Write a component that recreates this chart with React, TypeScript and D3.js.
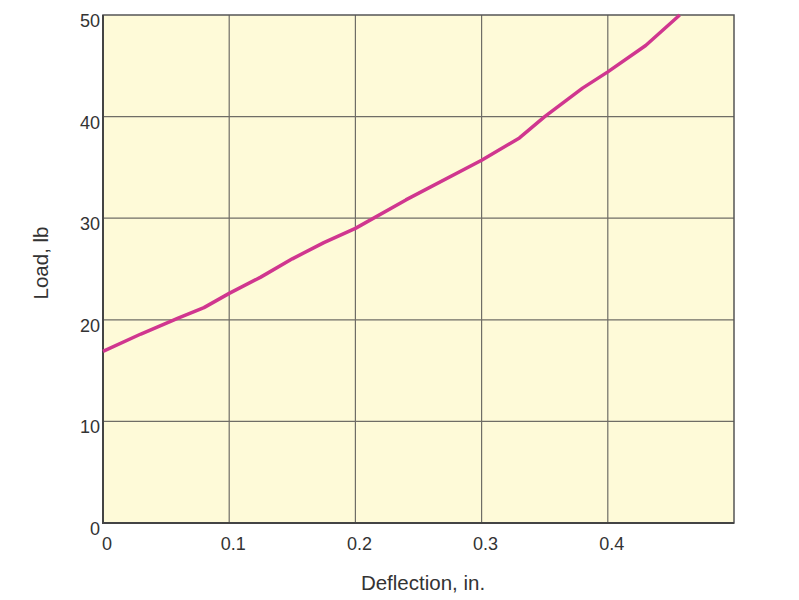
import React, { useRef, useEffect } from "react";
import * as d3 from "d3";

const deflection = [0, 0.03, 0.06, 0.08, 0.1, 0.125, 0.15, 0.175, 0.2, 0.24, 0.3, 0.33, 0.35, 0.38, 0.4, 0.43, 0.457];
const load = [16.9, 18.6, 20.2, 21.2, 22.6, 24.2, 26.0, 27.6, 29.0, 31.8, 35.7, 37.9, 40.0, 42.8, 44.4, 47.0, 50.0];
const xTicks = [0, 0.1, 0.2, 0.3, 0.4];
const yTicks = [0, 10, 20, 30, 40, 50];
const xTitle = "Deflection, in.";
const yTitle = "Load, lb";

const App: React.FC = () => {
  const chartRef = useRef<SVGSVGElement | null>(null);

  useEffect(() => {
    document.body.style.margin = "0";
    if (!chartRef.current) return;
    const svg = d3.select(chartRef.current);
    svg.selectAll("*").remove();

    const width = 799;
    const height = 600;
    const margin = { top: 15, right: 65, bottom: 77, left: 103 };
    const font = "'Liberation Sans', Arial, Helvetica, sans-serif";

    const x = d3.scaleLinear().domain([0, 0.5]).range([margin.left, width - margin.right]);
    const y = d3.scaleLinear().domain([0, 50]).range([height - margin.bottom, margin.top]);

    svg
      .append("rect")
      .attr("x", x(0))
      .attr("y", y(50))
      .attr("width", x(0.5) - x(0))
      .attr("height", y(0) - y(50))
      .attr("fill", "#fefad8");

    // grid
    svg
      .append("g")
      .selectAll("line")
      .data(xTicks.slice(1))
      .join("line")
      .attr("x1", (d) => x(d))
      .attr("x2", (d) => x(d))
      .attr("y1", y(0))
      .attr("y2", y(50))
      .attr("stroke", "#6f6d66")
      .attr("stroke-width", 1.2);

    svg
      .append("g")
      .selectAll("line")
      .data(yTicks.slice(1, -1))
      .join("line")
      .attr("x1", x(0))
      .attr("x2", x(0.5))
      .attr("y1", (d) => y(d))
      .attr("y2", (d) => y(d))
      .attr("stroke", "#6f6d66")
      .attr("stroke-width", 1.2);

    // frame
    svg
      .append("rect")
      .attr("x", x(0))
      .attr("y", y(50))
      .attr("width", x(0.5) - x(0))
      .attr("height", y(0) - y(50))
      .attr("fill", "none")
      .attr("stroke", "#555")
      .attr("stroke-width", 1.5);
    svg
      .append("path")
      .attr("d", `M${x(0)},${y(50)}V${y(0)}H${x(0.5)}`)
      .attr("fill", "none")
      .attr("stroke", "#444")
      .attr("stroke-width", 2);

    // curve
    const pts = deflection.map((d, i) => [d, load[i]] as [number, number]);
    const line = d3
      .line<[number, number]>()
      .x((d) => x(d[0]))
      .y((d) => y(d[1]));
    svg
      .append("path")
      .datum(pts)
      .attr("fill", "none")
      .attr("stroke", "#d0368f")
      .attr("stroke-width", 3.5)
      .attr("stroke-linejoin", "round")
      .attr("d", line);

    // tick labels
    svg
      .append("g")
      .selectAll("text")
      .data(xTicks)
      .join("text")
      .attr("x", (d) => x(d) + 4)
      .attr("y", y(0) + 26.5)
      .attr("text-anchor", "middle")
      .attr("font-family", font)
      .attr("font-size", 18)
      .attr("fill", "#333")
      .text((d) => (d === 0 ? "0" : d3.format(".1f")(d)));

    svg
      .append("g")
      .selectAll("text")
      .data(yTicks)
      .join("text")
      .attr("x", x(0) - 3)
      .attr("y", (d) => y(d) + 12)
      .attr("text-anchor", "end")
      .attr("font-family", font)
      .attr("font-size", 18)
      .attr("fill", "#333")
      .text((d) => String(d));

    svg
      .append("text")
      .attr("x", 423)
      .attr("y", 590)
      .attr("text-anchor", "middle")
      .attr("font-family", font)
      .attr("font-size", 20.5)
      .attr("fill", "#333")
      .text(xTitle);

    svg
      .append("text")
      .attr("transform", `translate(48,263) rotate(-90)`)
      .attr("text-anchor", "middle")
      .attr("font-family", font)
      .attr("font-size", 20.5)
      .attr("fill", "#333")
      .text(yTitle);
  }, []);

  return <svg ref={chartRef} width={799} height={600} style={{ display: "block" }} />;
};

export default App;
